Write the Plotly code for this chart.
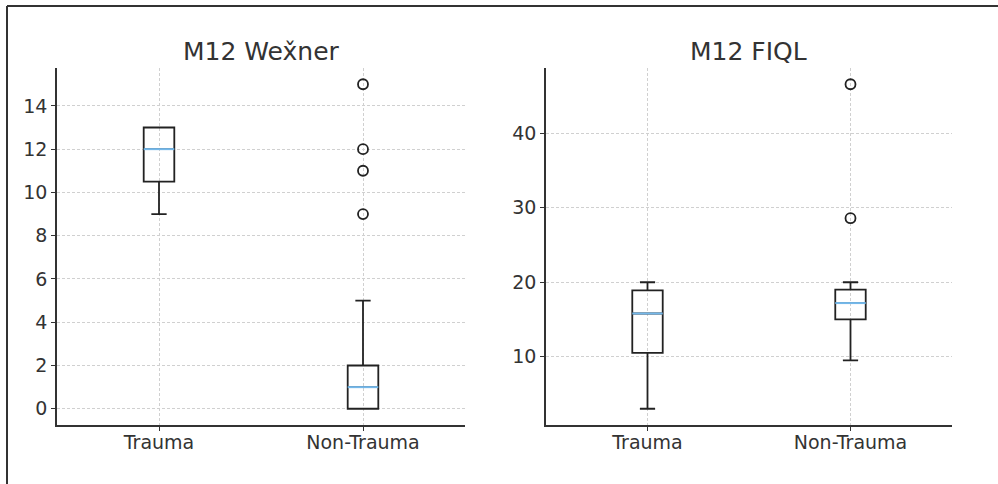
import numpy as np
import plotly.graph_objects as go

categories = ["Trauma", "Non-Trauma"]
positions = [1, 2]

# M12 Wexner
wex_q1 = [10.5, 0.0]
wex_median = [12.0, 1.0]
wex_q3 = [13.0, 2.0]
wex_low = [9.0, 0.0]
wex_high = [13.0, 5.0]
wex_outliers = [[], [9.0, 11.0, 12.0, 15.0]]

# M12 FIQL
fiql_q1 = [10.5, 15.0]
fiql_median = [15.8, 17.2]
fiql_q3 = [18.9, 19.0]
fiql_low = [3.0, 9.5]
fiql_high = [20.0, 20.0]
fiql_outliers = [[], [28.6, 46.6]]

W, H = 998, 484
BOX_W = 0.15
LINE = "#222222"
MED = "#74b8ea"
TXT = "#333333"
FONT = "DejaVu Sans"

fig = go.Figure()

def px_x(v):
    return v / W

def px_y(v):
    return 1 - v / H

panels = [
    dict(xa="x", ya="y", q1=wex_q1, med=wex_median, q3=wex_q3, lo=wex_low, hi=wex_high,
         out=wex_outliers),
    dict(xa="x2", ya="y2", q1=fiql_q1, med=fiql_median, q3=fiql_q3, lo=fiql_low, hi=fiql_high,
         out=fiql_outliers),
]

for p in panels:
    for i, pos in enumerate(positions):
        fig.add_trace(go.Box(
            x=[pos], q1=[p["q1"][i]], median=[p["med"][i]], q3=[p["q3"][i]],
            lowerfence=[p["lo"][i]], upperfence=[p["hi"][i]],
            width=BOX_W, whiskerwidth=0.5,
            line=dict(color=LINE, width=1.8), fillcolor="rgba(0,0,0,0)",
            boxpoints=False, xaxis=p["xa"], yaxis=p["ya"], showlegend=False,
            hoverinfo="skip",
        ))
        xs = np.array([pos - BOX_W / 2, pos + BOX_W / 2])
        fig.add_trace(go.Scatter(
            x=xs, y=[p["med"][i]] * 2, mode="lines",
            line=dict(color=MED, width=2), xaxis=p["xa"], yaxis=p["ya"],
            showlegend=False, hoverinfo="skip",
        ))
        if p["out"][i]:
            fig.add_trace(go.Scatter(
                x=[pos] * len(p["out"][i]), y=p["out"][i], mode="markers",
                marker=dict(symbol="circle-open", size=10, color=LINE, line=dict(width=1.8)),
                xaxis=p["xa"], yaxis=p["ya"], showlegend=False, hoverinfo="skip",
            ))

ydom = [px_y(425), px_y(68)]
axis_common = dict(
    showline=True, linecolor="#333333", linewidth=1.5, ticks="outside", ticklen=4,
    tickcolor="#333333", tickwidth=1.2, showgrid=True, gridcolor="#d0d0d0",
    griddash="3px,2px", gridwidth=1, zeroline=False,
    tickfont=dict(family=FONT, size=19, color=TXT), mirror=False,
)

fig.update_layout(
    width=W, height=H, margin=dict(l=0, r=0, t=0, b=0),
    paper_bgcolor="white", plot_bgcolor="white",
    xaxis=dict(domain=[px_x(57), px_x(465)], range=[0.5, 2.5], tickvals=positions,
               ticktext=categories, anchor="y", ticklabelstandoff=-5, **axis_common),
    yaxis=dict(domain=ydom, range=[-0.75, 15.75], tickvals=[0, 2, 4, 6, 8, 10, 12, 14],
               anchor="x", **axis_common),
    xaxis2=dict(domain=[px_x(546), px_x(952)], range=[0.5, 2.5], tickvals=positions,
                ticktext=categories, anchor="y2", ticklabelstandoff=-5, **axis_common),
    yaxis2=dict(domain=ydom, range=[0.82, 48.78], tickvals=[10, 20, 30, 40],
                anchor="x2", **axis_common),
    annotations=[
        dict(text="M12 We\u0078\u030cner", x=(px_x(57) + px_x(465)) / 2, y=px_y(52),
             xref="paper", yref="paper", showarrow=False, xanchor="center", yanchor="middle",
             font=dict(family=FONT, size=25, color=TXT)),
        dict(text="M12 FIQL", x=(px_x(546) + px_x(952)) / 2, y=px_y(52),
             xref="paper", yref="paper", showarrow=False, xanchor="center", yanchor="middle",
             font=dict(family=FONT, size=25, color=TXT)),
    ],
    shapes=[
        dict(type="line", xref="paper", yref="paper", x0=px_x(7), x1=px_x(7),
             y0=0, y1=px_y(6), line=dict(color="#333333", width=2)),
        dict(type="line", xref="paper", yref="paper", x0=px_x(7), x1=1,
             y0=px_y(6), y1=px_y(6), line=dict(color="#333333", width=2)),
    ],
)

fig.write_html("out.html", config={"displayModeBar": False},
               post_script="document.body.style.margin='0';")
